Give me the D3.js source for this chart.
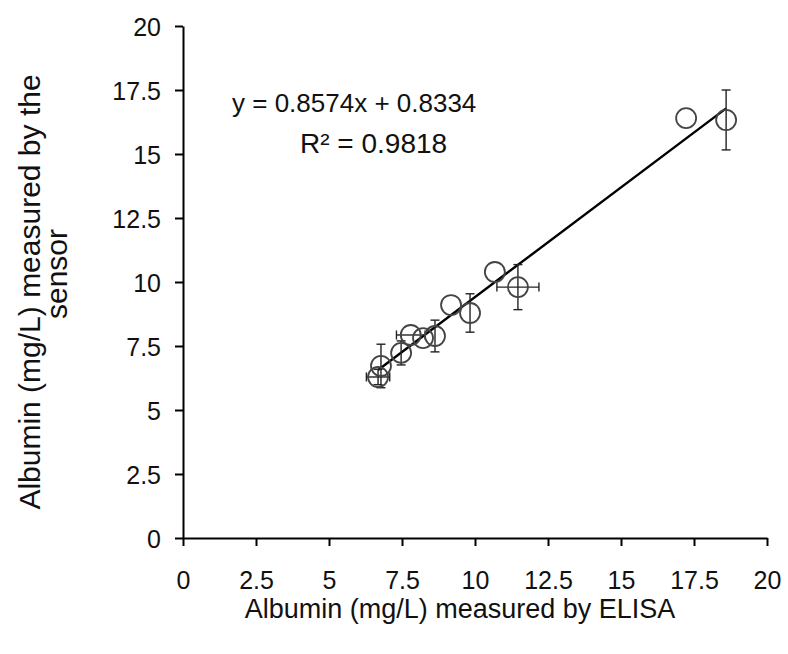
<!DOCTYPE html>
<html><head><meta charset="utf-8">
<script src="https://cdn.jsdelivr.net/npm/d3@7"></script>
<style>body{margin:0;background:#fff}</style>
</head><body>
<svg id="c" width="788" height="654"></svg>
<script>
const elisa  = [6.68, 6.78, 7.47, 7.80, 8.22, 8.63, 9.18, 9.83, 10.68, 11.47, 17.23, 18.60];
const sensor = [6.29, 6.72, 7.23, 7.93, 7.81, 7.89, 9.10, 8.79, 10.39, 9.80, 16.40, 16.33];
const xErr   = [0.40, 0, 0, 0.49, 0, 0, 0, 0, 0, 0.72, 0, 0];
const yErr   = [0.30, 0.85, 0.47, 0, 0, 0.62, 0, 0.75, 0, 0.88, 0, 1.17];
const tickVals = [0, 2.5, 5, 7.5, 10, 12.5, 15, 17.5, 20];
const slope = 0.8574, intercept = 0.8334, r2 = 0.9818;

const svg = d3.select("#c");
const font = "Liberation Sans, Arial, sans-serif";
const x = d3.scaleLinear().domain([0,20]).range([183,767]);
const y = d3.scaleLinear().domain([0,20]).range([538,26]);

const xa = svg.append("g").attr("transform","translate(0,538)")
  .call(d3.axisBottom(x).tickValues(tickVals).tickFormat(d=>d).tickSize(8).tickSizeOuter(0));
const ya = svg.append("g").attr("transform","translate(183,0)")
  .call(d3.axisLeft(y).tickValues(tickVals).tickFormat(d=>d).tickSize(8).tickSizeOuter(0));
[xa,ya].forEach(g=>{
  g.select(".domain").attr("stroke","#000").attr("stroke-width",2);
  g.selectAll(".tick line").attr("stroke","#000").attr("stroke-width",2);
  g.selectAll(".tick text").attr("fill","#111").style("font-family",font).style("font-size","25px");
});
xa.selectAll(".tick text").attr("y",51).attr("dy",0);
ya.selectAll(".tick text").attr("x",-22).attr("dy","0.36em");

// regression line
const xmin = d3.min(elisa), xmax = d3.max(elisa);
svg.append("line")
  .attr("x1",x(xmin)).attr("y1",y(slope*xmin+intercept))
  .attr("x2",x(xmax)).attr("y2",y(slope*xmax+intercept))
  .attr("stroke","#000").attr("stroke-width",2.4);

// error bars
const eb = svg.append("g").attr("stroke","#222").attr("stroke-width",1.4);
const cap = 4.5;
elisa.forEach((xv,i)=>{
  const yv = sensor[i];
  if (yErr[i]>0){
    eb.append("line").attr("x1",x(xv)).attr("x2",x(xv)).attr("y1",y(yv-yErr[i])).attr("y2",y(yv+yErr[i]));
    [yv-yErr[i], yv+yErr[i]].forEach(e=>eb.append("line").attr("x1",x(xv)-cap).attr("x2",x(xv)+cap).attr("y1",y(e)).attr("y2",y(e)));
  }
  if (xErr[i]>0){
    eb.append("line").attr("y1",y(yv)).attr("y2",y(yv)).attr("x1",x(xv-xErr[i])).attr("x2",x(xv+xErr[i]));
    [xv-xErr[i], xv+xErr[i]].forEach(e=>eb.append("line").attr("y1",y(yv)-cap).attr("y2",y(yv)+cap).attr("x1",x(e)).attr("x2",x(e)));
  }
});

// points
svg.append("g").selectAll("circle").data(elisa).join("circle")
  .attr("cx",d=>x(d)).attr("cy",(d,i)=>y(sensor[i])).attr("r",10)
  .attr("fill","none").attr("stroke","#444").attr("stroke-width",1.8);

// equation
svg.append("text").attr("x",232).attr("y",112)
  .style("font-family",font).style("font-size","26px").attr("fill","#111")
  .text(`y = ${slope}x + ${intercept}`);
svg.append("text").attr("x",300).attr("y",153)
  .style("font-family",font).style("font-size","28px").attr("fill","#111")
  .text(`R² = ${r2}`);

// axis titles
svg.append("text").attr("x",460).attr("y",618).attr("text-anchor","middle")
  .style("font-family",font).style("font-size","27px").attr("fill","#111")
  .text("Albumin (mg/L) measured by ELISA");
svg.append("text").attr("transform","translate(40,292) rotate(-90)").attr("text-anchor","middle")
  .style("font-family",font).style("font-size","30px").attr("fill","#111")
  .text("Albumin (mg/L) measured by the");
svg.append("text").attr("transform","translate(67,274) rotate(-90)").attr("text-anchor","middle")
  .style("font-family",font).style("font-size","30px").attr("fill","#111")
  .text("sensor");
</script>
</body></html>
